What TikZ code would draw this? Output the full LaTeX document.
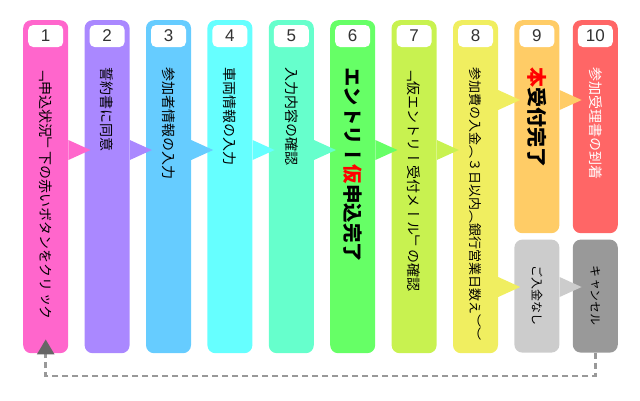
\documentclass[tikz,border=0pt]{standalone}
\usepackage{fontspec}
\setmainfont{Liberation Sans}
\newfontfamily\numfont{Liberation Sans}
\newfontfamily\tate[Vertical=RotatedGlyphs]{Noto Sans CJK JP}
\usetikzlibrary{positioning,calc,arrows.meta}
\definecolor{pnk}{HTML}{FF66CC}
\definecolor{prp}{HTML}{AA88FF}
\definecolor{sky}{HTML}{66CCFF}
\definecolor{cyn}{HTML}{66FFFF}
\definecolor{aqu}{HTML}{66FFCC}
\definecolor{grn}{HTML}{66FF66}
\definecolor{lim}{HTML}{C8F250}
\definecolor{ylw}{HTML}{F0EE60}
\definecolor{org}{HTML}{FFCC66}
\definecolor{rd}{HTML}{FF6666}
\definecolor{lgry}{HTML}{CCCCCC}
\definecolor{mgry}{HTML}{999999}
\definecolor{dgry}{HTML}{666666}
\definecolor{numgry}{HTML}{333333}
\tikzset{
  x=1pt,y=-1pt,
  node distance=16pt,
  lane/.style={fill=#1,rounded corners=8pt,minimum width=45pt,
    minimum height=333pt,inner sep=0pt,anchor=north west},
  numbox/.style={fill=white,rounded corners=5pt,minimum width=35pt,
    minimum height=22pt,inner sep=0pt,font=\numfont\fontsize{17pt}{17pt}\selectfont,
    text=numgry},
  vtxt/.style={rotate=-90,anchor=west,inner sep=0pt,
    font=\tate\fontsize{14pt}{14pt}\selectfont},
  vbold/.style={vtxt,font=\tate\bfseries\fontsize{19.5pt}{19.5pt}\selectfont},
  back/.style={draw=mgry,line width=2.5pt,dash pattern=on 6pt off 4pt,
    -{Triangle[length=15pt,width=17pt,color=dgry]}},
}
\begin{document}
\begin{tikzpicture}
  \useasboundingbox (0,0) rectangle (640,400);
  % steps
  \node[lane=pnk] (c1) at (23,20) {};
  \node[lane=prp,right=of c1] (c2) {};
  \node[lane=sky,right=of c2] (c3) {};
  \node[lane=cyn,right=of c3] (c4) {};
  \node[lane=aqu,right=of c4] (c5) {};
  \node[lane=grn,right=of c5] (c6) {};
  \node[lane=lim,right=of c6] (c7) {};
  \node[lane=ylw,right=of c7] (c8) {};
  \node[lane=org,minimum height=213pt,right=of c8.north east,anchor=north west] (c9) {};
  \node[lane=rd,minimum height=213pt,right=13pt of c9.north east,anchor=north west] (c10) {};
  \node[lane=lgry,minimum height=113pt,below=6pt of c9.south west,anchor=north west] (n9) {};
  \node[lane=mgry,minimum height=113pt,below=6pt of c10.south west,anchor=north west] (n10) {};
  % pointers
  \foreach \a/\c/\y in {c1/pnk/150,c2/prp/150,c3/sky/150,c4/cyn/150,c5/aqu/150,
      c6/grn/150,c7/lim/150,c8/ylw/100,c9/org/100,c8/ylw/287,n9/lgry/287}
    \fill[\c] (\a.east |- 0,\y-10) -- ($(\a.east |- 0,\y)+(22,0)$)
      -- (\a.east |- 0,\y+10) -- cycle;
  % numbers
  \foreach \i in {1,...,10}
    \node[numbox] (k\i) at ($(c\i.north)+(0,16)$) {\i};
  % texts
  \node[vtxt] (t1) at ($(c1.north)+(0,47)$) {「申込状況」下の赤いボタンをクリック};
  \node[vtxt] (t2) at ($(c2.north)+(0,47)$) {誓約書に同意};
  \node[vtxt] (t3) at ($(c3.north)+(0,47)$) {参加者情報の入力};
  \node[vtxt] (t4) at ($(c4.north)+(0,47)$) {車両情報の入力};
  \node[vtxt] (t5) at ($(c5.north)+(0,47)$) {入力内容の確認};
  \node[vbold] (t6) at ($(c6.north)+(0,47)$) {エントリー\textcolor{red}{仮}申込完了};
  \node[vtxt] (t7) at ($(c7.north)+(0,47)$) {「仮エントリー受付メール」の確認};
  \node[vtxt,font=\tate\fontsize{13pt}{13pt}\selectfont] (t8)
    at ($(c8.north)+(0,47)$) {参加費の入金（３日以内（銀行営業日数え））};
  \node[vbold,font=\tate\bfseries\fontsize{20pt}{20pt}\selectfont] (t9)
    at ($(c9.north)+(0,47)$) {\textcolor{red}{本}受付完了};
  \node[vtxt,text=white] (t10) at ($(c10.north)+(0,47)$) {参加受理書の到着};
  \node[vtxt,font=\tate\fontsize{12pt}{12pt}\selectfont] (m9)
    at ($(n9.north)+(0,26)$) {ご入金なし};
  \node[vtxt,font=\tate\fontsize{12pt}{12pt}\selectfont] (m10)
    at ($(n10.north)+(0,26)$) {キャンセル};
  % back to start
  \draw[back] (n10.south) -- ++(0,23) -| ($(c1.south)+(0,-14)$);
\end{tikzpicture}
\end{document}
